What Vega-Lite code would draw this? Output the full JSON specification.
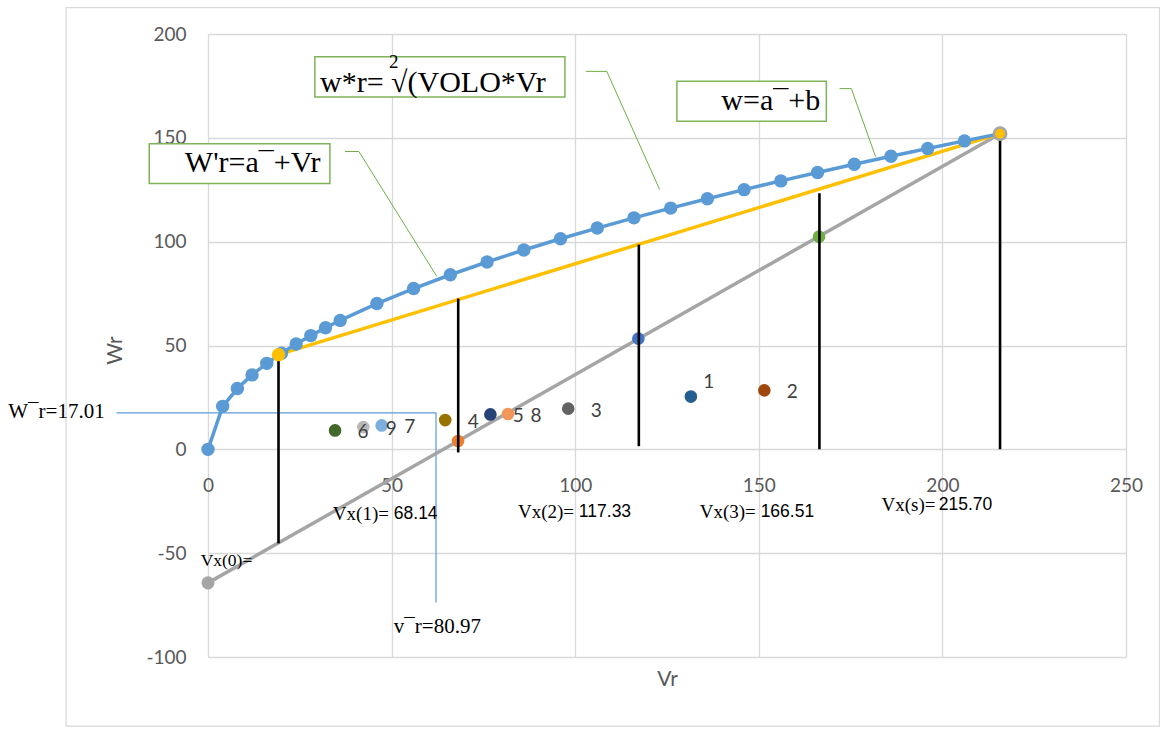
{
  "$schema": "https://vega.github.io/schema/vega-lite/v6.json",
  "width": 918,
  "height": 623,
  "autosize": {"type": "none"},
  "padding": {"left": 208, "top": 34, "right": 42, "bottom": 72},
  "background": "white",
  "config": {"view": {"stroke": null}},
  "datasets": {
    "curve": [
      {"x": 0, "y": 0}, {"x": 4, "y": 20.7}, {"x": 8, "y": 29.27}, {"x": 12, "y": 35.85},
      {"x": 16, "y": 41.4}, {"x": 20, "y": 46.28}, {"x": 24, "y": 50.7}, {"x": 28, "y": 54.76},
      {"x": 32, "y": 58.54}, {"x": 36, "y": 62.09}, {"x": 46, "y": 70.19}, {"x": 56, "y": 77.44},
      {"x": 66, "y": 84.07}, {"x": 76, "y": 90.22}, {"x": 86, "y": 95.97}, {"x": 96, "y": 101.4},
      {"x": 106, "y": 106.55}, {"x": 116, "y": 111.46}, {"x": 126, "y": 116.17}, {"x": 136, "y": 120.69},
      {"x": 146, "y": 125.05}, {"x": 156, "y": 129.26}, {"x": 166, "y": 133.34}, {"x": 176, "y": 137.29},
      {"x": 186, "y": 141.14}, {"x": 196, "y": 144.88}, {"x": 206, "y": 148.53}, {"x": 215.7, "y": 151.99}
    ],
    "gray": [{"x": 0, "y": -64.3}, {"x": 215.7, "y": 152}],
    "yellow": [{"x": 19.2, "y": 45.6}, {"x": 215.7, "y": 152}],
    "verticals": [
      {"x": 19.2, "y": 45.6, "y2": -45.3},
      {"x": 68.14, "y": 72.6, "y2": -1.5},
      {"x": 117.33, "y": 98.6, "y2": 1.5},
      {"x": 166.51, "y": 123.3, "y2": 0},
      {"x": 215.7, "y": 152, "y2": 0}
    ],
    "pts": [
      {"x": 131.5, "y": 25.4, "id": "1", "label": "1"},
      {"x": 151.5, "y": 28.4, "id": "2", "label": "2"},
      {"x": 98.1, "y": 19.6, "id": "3", "label": "3"},
      {"x": 64.6, "y": 14.1, "id": "4", "label": "4"},
      {"x": 76.9, "y": 16.8, "id": "5", "label": "5"},
      {"x": 34.6, "y": 9.1, "id": "6", "label": "6"},
      {"x": 47.3, "y": 11.5, "id": "7", "label": "7"},
      {"x": 81.7, "y": 17.0, "id": "8", "label": "8"},
      {"x": 42.3, "y": 10.7, "id": "9", "label": "9"},
      {"x": 68.1, "y": 4.0, "id": "a", "label": ""},
      {"x": 117.2, "y": 53.3, "id": "b", "label": ""},
      {"x": 166.4, "y": 102.4, "id": "c", "label": ""}
    ],
    "hline": [{"x": -24.9, "x2": 62.1, "y": 17.6}],
    "vline": [{"x": 62.1, "y": 17.6, "y2": -73.8}],
    "leaders": [
      {"g": "a", "o": 1, "x": 37.3, "y": 143.4}, {"g": "a", "o": 2, "x": 41.1, "y": 143.4}, {"g": "a", "o": 3, "x": 62.3, "y": 83.3},
      {"g": "b", "o": 1, "x": 102.9, "y": 182.0}, {"g": "b", "o": 2, "x": 108.6, "y": 182.0}, {"g": "b", "o": 3, "x": 123.0, "y": 125.1},
      {"g": "c", "o": 1, "x": 172.0, "y": 173.7}, {"g": "c", "o": 2, "x": 175.2, "y": 173.7}, {"g": "c", "o": 3, "x": 181.8, "y": 141.0}
    ],
    "boxes": [
      {"x": -16.0, "x2": 33.2, "y": 147.1, "y2": 128.0},
      {"x": 29.1, "x2": 97.2, "y": 189.0, "y2": 169.7},
      {"x": 127.7, "x2": 168.4, "y": 177.2, "y2": 158.0}
    ],
    "boxtext": [
      {"x": -6.3, "y": 138.1, "t": "W'r=a¯+Vr"},
      {"x": 30.5, "y": 176.4, "t": "w*r= √(VOLO*Vr"},
      {"x": 139.8, "y": 167.6, "t": "w=a¯+b"}
    ],
    "sup": [{"x": 49.3, "y": 186.5, "t": "2"}],
    "notes": [
      {"x": -54.4, "y": 17.8, "t": "W¯r=17.01"},
      {"x": 50.6, "y": -85.7, "t": "v¯r=80.97"}
    ],
    "vx0": [{"x": -2.0, "y": -53.7, "t": "Vx(0)="}],
    "vxlab": [
      {"x": 34.0, "y": -31.3, "t": "Vx(1)=", "k": "s"}, {"x": 50.6, "y": -31.3, "t": "68.14", "k": "n"},
      {"x": 84.4, "y": -30.3, "t": "Vx(2)=", "k": "s"}, {"x": 101.0, "y": -30.3, "t": "117.33", "k": "n"},
      {"x": 133.9, "y": -30.3, "t": "Vx(3)=", "k": "s"}, {"x": 150.5, "y": -30.3, "t": "166.51", "k": "n"},
      {"x": 183.4, "y": -27.0, "t": "Vx(s)=", "k": "s"}, {"x": 199.0, "y": -27.0, "t": "215.70", "k": "n"}
    ],
    "frame": [{"x": -38.65, "x2": 259.1, "y": 212.7, "y2": -133.3}]
  },
  "encoding": {
    "x": {
      "field": "x", "type": "quantitative",
      "scale": {"domain": [0, 250], "nice": false, "zero": false},
      "axis": {
        "title": "Vr", "values": [0, 50, 100, 150, 200, 250], "offset": -207.7,
        "domain": false, "ticks": false, "tickSize": 0, "labelPadding": 27, "labelFlush": false,
        "labelFont": "Lato", "labelFontSize": 19, "labelColor": "#595959",
        "grid": true, "gridColor": "#d9d9d9", "gridWidth": 1.3,
        "titleFont": "Lato", "titleFontSize": 21, "titleFontWeight": "normal", "titleColor": "#595959",
        "titleY": 230, "titleBaseline": "middle"
      }
    },
    "y": {
      "field": "y", "type": "quantitative",
      "scale": {"domain": [-100, 200], "nice": false, "zero": false},
      "axis": {
        "title": "Wr", "values": [-100, -50, 0, 50, 100, 150, 200],
        "domain": false, "ticks": false, "tickSize": 0, "labelPadding": 22, "labelFlush": false,
        "labelExpr": "replace(datum.label, '\u2212', '-')",
        "labelFont": "Lato", "labelFontSize": 19, "labelColor": "#595959",
        "grid": true, "gridColor": "#d9d9d9", "gridWidth": 1.3,
        "titleFont": "Lato", "titleFontSize": 21, "titleFontWeight": "normal", "titleColor": "#595959",
        "titleX": -93, "titleY": 316, "titleBaseline": "middle", "titleAlign": "center"
      }
    }
  },
  "layer": [
    {"data": {"name": "frame"}, "mark": {"type": "rect", "fill": null, "fillOpacity": 0, "stroke": "#d9d9d9", "strokeWidth": 1.2}, "encoding": {"x2": {"field": "x2"}, "y2": {"field": "y2"}}},
    {"data": {"name": "hline"}, "mark": {"type": "rule", "color": "#5b9bd5", "strokeWidth": 1.2}, "encoding": {"x2": {"field": "x2"}}},
    {"data": {"name": "vline"}, "mark": {"type": "rule", "color": "#5b9bd5", "strokeWidth": 1.2}, "encoding": {"y2": {"field": "y2"}}},
    {"data": {"name": "gray"}, "mark": {"type": "line", "color": "#a5a5a5", "strokeWidth": 3.5}, "encoding": {}},
    {"data": {"name": "yellow"}, "mark": {"type": "line", "color": "#ffc000", "strokeWidth": 3.5}, "encoding": {}},
    {"data": {"name": "pts"}, "mark": {"type": "circle", "size": 160, "opacity": 1},
      "encoding": {"color": {"field": "id", "type": "nominal", "legend": null,
        "scale": {"domain": ["1","2","3","4","5","6","7","8","9","a","b","c"],
                  "range": ["#255e91","#9e480e","#636363","#997300","#264478","#43682b","#7cafdd","#f1975a","#b7b7b7","#ed7d31","#4472c4","#70ad47"]}}}},
    {"data": {"name": "verticals"}, "mark": {"type": "rule", "color": "#000000", "strokeWidth": 2.6}, "encoding": {"y2": {"field": "y2"}}},
    {"data": {"name": "curve"}, "mark": {"type": "line", "color": "#5b9bd5", "strokeWidth": 3.5, "point": {"filled": true, "size": 180, "color": "#5b9bd5"}}, "encoding": {}},
    {"data": {"name": "gray"}, "transform": [{"filter": "datum.x < 1"}], "mark": {"type": "circle", "size": 170, "color": "#a5a5a5", "opacity": 1}},
    {"data": {"name": "yellow"}, "transform": [{"filter": "datum.x < 100"}], "mark": {"type": "circle", "size": 180, "color": "#ffc000", "opacity": 1}},
    {"data": {"name": "yellow"}, "transform": [{"filter": "datum.x > 100"}], "mark": {"type": "point", "shape": "circle", "size": 150, "filled": true, "fill": "#ffc000", "stroke": "#a5a5a5", "strokeWidth": 2.5, "opacity": 1}},
    {"data": {"name": "pts"}, "transform": [{"filter": "datum.label != '' && datum.label != '1'"}], "mark": {"type": "text", "align": "center", "baseline": "middle", "dx": 28, "dy": 2, "font": "Lato", "fontSize": 19, "color": "#404040"}, "encoding": {"text": {"field": "label"}}},
    {"data": {"name": "pts"}, "transform": [{"filter": "datum.label == '1'"}], "mark": {"type": "text", "align": "center", "baseline": "middle", "dx": 18, "dy": -15, "font": "Lato", "fontSize": 19, "color": "#404040"}, "encoding": {"text": {"field": "label"}}},
    {"data": {"name": "leaders"}, "mark": {"type": "line", "color": "#70ad47", "strokeWidth": 1}, "encoding": {"detail": {"field": "g"}, "order": {"field": "o"}}},
    {"data": {"name": "boxes"}, "mark": {"type": "rect", "fill": "white", "stroke": "#7fb35a", "strokeWidth": 1.5}, "encoding": {"x2": {"field": "x2"}, "y2": {"field": "y2"}}},
    {"data": {"name": "boxtext"}, "mark": {"type": "text", "align": "left", "baseline": "middle", "font": "Liberation Serif", "fontSize": 30, "color": "#000000"}, "encoding": {"text": {"field": "t"}}},
    {"data": {"name": "sup"}, "mark": {"type": "text", "align": "left", "baseline": "middle", "font": "Liberation Serif", "fontSize": 19, "color": "#000000"}, "encoding": {"text": {"field": "t"}}},
    {"data": {"name": "notes"}, "mark": {"type": "text", "align": "left", "baseline": "middle", "font": "Liberation Serif", "fontSize": 21, "color": "#000000"}, "encoding": {"text": {"field": "t"}}},
    {"data": {"name": "vx0"}, "mark": {"type": "text", "align": "left", "baseline": "middle", "font": "Liberation Serif", "fontSize": 17.5, "color": "#000000"}, "encoding": {"text": {"field": "t"}}},
    {"data": {"name": "vxlab"}, "transform": [{"filter": "datum.k == 's'"}], "mark": {"type": "text", "align": "left", "baseline": "middle", "font": "Liberation Serif", "fontSize": 19, "color": "#000000"}, "encoding": {"text": {"field": "t"}}},
    {"data": {"name": "vxlab"}, "transform": [{"filter": "datum.k == 'n'"}], "mark": {"type": "text", "align": "left", "baseline": "middle", "font": "Liberation Sans", "fontSize": 17.5, "color": "#000000"}, "encoding": {"text": {"field": "t"}}}
  ]
}
